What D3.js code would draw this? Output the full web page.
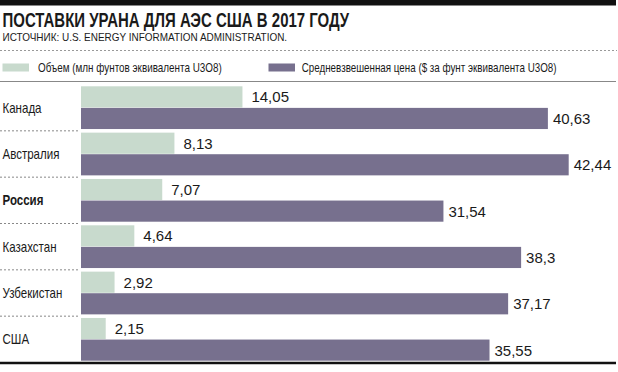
<!DOCTYPE html>
<html><head><meta charset="utf-8">
<script src="https://cdn.jsdelivr.net/npm/d3@7"></script>
<style>
html,body{margin:0;padding:0;background:#fff;}
svg{display:block;}
text{font-family:"Liberation Sans",Arial,Helvetica,sans-serif;}
</style>
</head><body>
<svg id="chart" width="618" height="372"></svg>
<script>
const title = "ПОСТАВКИ УРАНА ДЛЯ АЭС США В 2017 ГОДУ";
const subtitle = "ИСТОЧНИК: U.S. ENERGY INFORMATION ADMINISTRATION.";
const categories = ["Канада","Австралия","Россия","Казахстан","Узбекистан","США"];
const seriesNames = ["Объем (млн фунтов эквивалента U3O8)","Средневзвешенная цена ($ за фунт эквивалента U3O8)"];
const volume = [14.05, 8.13, 7.07, 4.64, 2.92, 2.15];
const price = [40.63, 42.44, 31.54, 38.3, 37.17, 35.55];
const highlight = "Россия";
const colors = ["#c8dacd","#77708e"];

const svg = d3.select("#chart");

// condensed text helper: draws text at (x,y) squeezed horizontally to a target width
function condText(parent, x, y, str, size, weight, width){
  const t = parent.append("text").attr("font-size",size).attr("font-weight",weight||"normal")
    .attr("fill","#1a1a1a").text(str);
  const w = t.node().getComputedTextLength();
  const sx = width ? width / w : 1;
  t.attr("transform",`translate(${x},${y}) scale(${sx},1)`);
  return t;
}

// top bar
svg.append("rect").attr("x",0).attr("y",0).attr("width",616).attr("height",5.5).attr("fill","#111");
condText(svg, 2.5, 26.6, title, 20, "bold", 347);
condText(svg, 2.5, 40.7, subtitle, 11.6, "normal", 285);
svg.append("line").attr("x1",0).attr("x2",617).attr("y1",50.5).attr("y2",50.5)
  .attr("stroke","#999").attr("stroke-dasharray","2,2").attr("stroke-width",1);

// legend
const legX = [2.5, 268.5];
const legTX = [38, 301.7];
const legW = [184, 255];
seriesNames.forEach((n,i)=>{
  svg.append("rect").attr("x",legX[i]).attr("y",63.5).attr("width",26.5).attr("height",8).attr("fill",colors[i]);
  condText(svg, legTX[i], 72, n, 12, "normal", legW[i]);
});
svg.append("line").attr("x1",0).attr("x2",616).attr("y1",81.5).attr("y2",81.5)
  .attr("stroke","#888").attr("stroke-width",1.2);

// scales
const y = d3.scaleBand().domain(categories).range([85,363]).padding(0);
const sub = d3.scaleBand().domain([0,1]).range([1.3, y.bandwidth()-2.3]).paddingInner(0.02);
const x = d3.scaleLinear().domain([0,46]).range([81, 609.6]);

const rows = categories.map((c,i)=>({c, vals:[volume[i], price[i]]}));

// separators
svg.selectAll(".sep").data(categories.slice(1)).join("line")
  .attr("x1",0).attr("x2",79).attr("y1",d=>y(d)-0.5).attr("y2",d=>y(d)-0.5)
  .attr("stroke","#888").attr("stroke-dasharray","2,2").attr("stroke-width",1);

const g = svg.selectAll(".row").data(rows).join("g").attr("transform",d=>`translate(0,${y(d.c)})`);

// category labels: condensed factor derived from one label
const probe = svg.append("text").attr("font-size",14).text("Австралия");
const catSx = 57 / probe.node().getComputedTextLength();
probe.remove();
g.append("text").attr("font-size",14).attr("font-weight",d=>d.c===highlight?"bold":"normal")
  .attr("fill","#1a1a1a").attr("dy","0.36em")
  .attr("transform",`translate(2.5,${(y.bandwidth()-1)/2}) scale(${catSx},1)`)
  .text(d=>d.c);

g.selectAll("rect.bar").data(d=>d.vals.map((v,k)=>({v,k}))).join("rect").attr("class","bar")
  .attr("x",x(0)).attr("y",d=>sub(d.k)).attr("width",d=>x(d.v)-x(0)).attr("height",sub.bandwidth())
  .attr("fill",d=>colors[d.k]);

const fmt = v => String(v).replace(".",",");
g.selectAll("text.val").data(d=>d.vals.map((v,k)=>({v,k}))).join("text").attr("class","val")
  .attr("x",d=>x(d.v)+(d.k===0?9:5)).attr("y",d=>sub(d.k)+sub.bandwidth()/2).attr("dy","0.36em")
  .attr("font-size",15).attr("fill","#1a1a1a").text(d=>fmt(d.v));

// bottom line
svg.append("line").attr("x1",0).attr("x2",616).attr("y1",363).attr("y2",363)
  .attr("stroke","#111").attr("stroke-width",2.5);
</script>
</body></html>
